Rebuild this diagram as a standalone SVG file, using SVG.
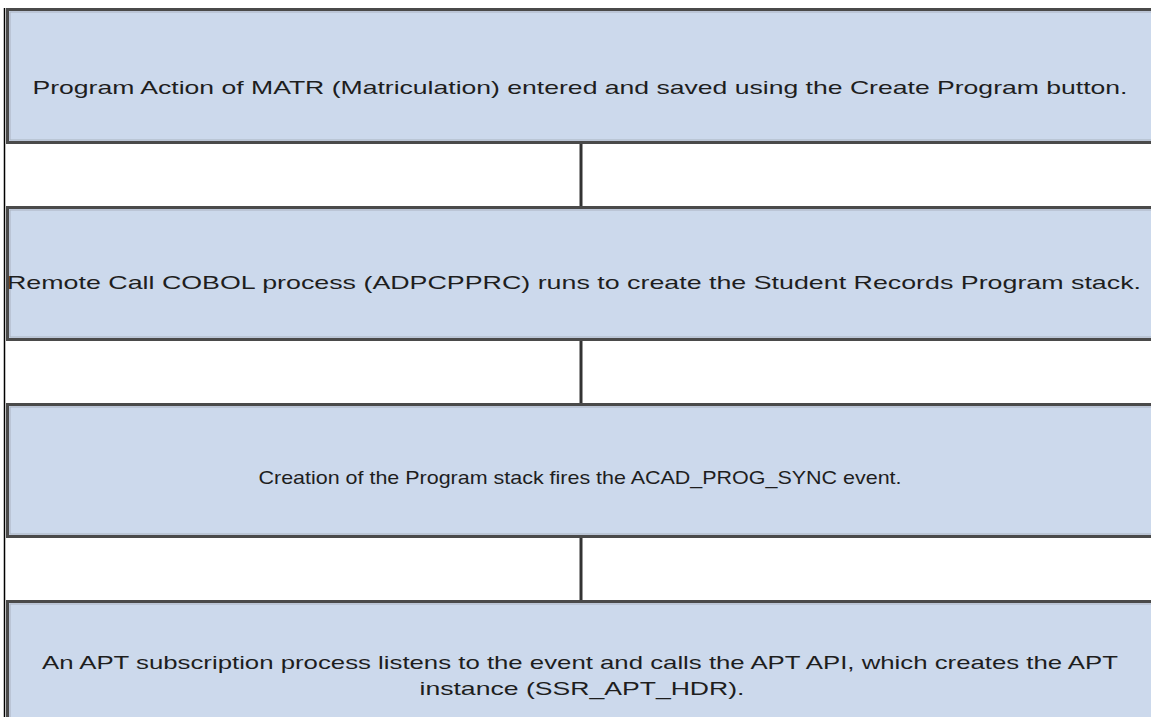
<svg xmlns="http://www.w3.org/2000/svg" width="1151" height="717" viewBox="0 0 1151 717">
<style>
.box{fill:#ccd9ec;stroke:#4a4a4a;stroke-width:3}
.inner{fill:none;stroke:#a9b2bf;stroke-width:1}
.t{font-family:"Liberation Sans",Arial,sans-serif;font-size:19px;fill:#1e1e1e;text-anchor:middle}
.c{stroke:#333;stroke-width:3;fill:none}
</style>
<rect width="1151" height="717" fill="#fff"/>
<line x1="4.5" y1="8" x2="4.5" y2="717" stroke="#000" stroke-width="1.5"/>
<g id="connectors">
<line class="c" x1="581" y1="143" x2="581" y2="207"/>
<line class="c" x1="581" y1="340" x2="581" y2="404"/>
<line class="c" x1="581" y1="537" x2="581" y2="601"/>
</g>
<g id="node1">
<rect class="box" x="7.5" y="9.5" width="1150" height="133"/>
<rect class="inner" x="10" y="12" width="1150" height="128"/>
<text class="t" x="580" y="94" textLength="1095" lengthAdjust="spacingAndGlyphs">Program Action of MATR (Matriculation) entered and saved using the Create Program button.</text>
</g>
<g id="node2">
<rect class="box" x="7.5" y="207.5" width="1150" height="132"/>
<rect class="inner" x="10" y="210" width="1150" height="127"/>
<text class="t" x="574" y="289" textLength="1134" lengthAdjust="spacingAndGlyphs">Remote Call COBOL process (ADPCPPRC) runs to create the Student Records Program stack.</text>
</g>
<g id="node3">
<rect class="box" x="7.5" y="404.5" width="1150" height="132"/>
<rect class="inner" x="10" y="407" width="1150" height="127"/>
<text class="t" x="580" y="484" textLength="643" lengthAdjust="spacingAndGlyphs">Creation of the Program stack fires the ACAD_PROG_SYNC event.</text>
</g>
<g id="node4">
<rect class="box" x="7.5" y="601.5" width="1150" height="130"/>
<rect class="inner" x="10" y="604" width="1150" height="130"/>
<text class="t" x="580" y="669" textLength="1076" lengthAdjust="spacingAndGlyphs">An APT subscription process listens to the event and calls the APT API, which creates the APT</text>
<text class="t" x="582" y="695" textLength="325" lengthAdjust="spacingAndGlyphs">instance (SSR_APT_HDR).</text>
</g>
</svg>
